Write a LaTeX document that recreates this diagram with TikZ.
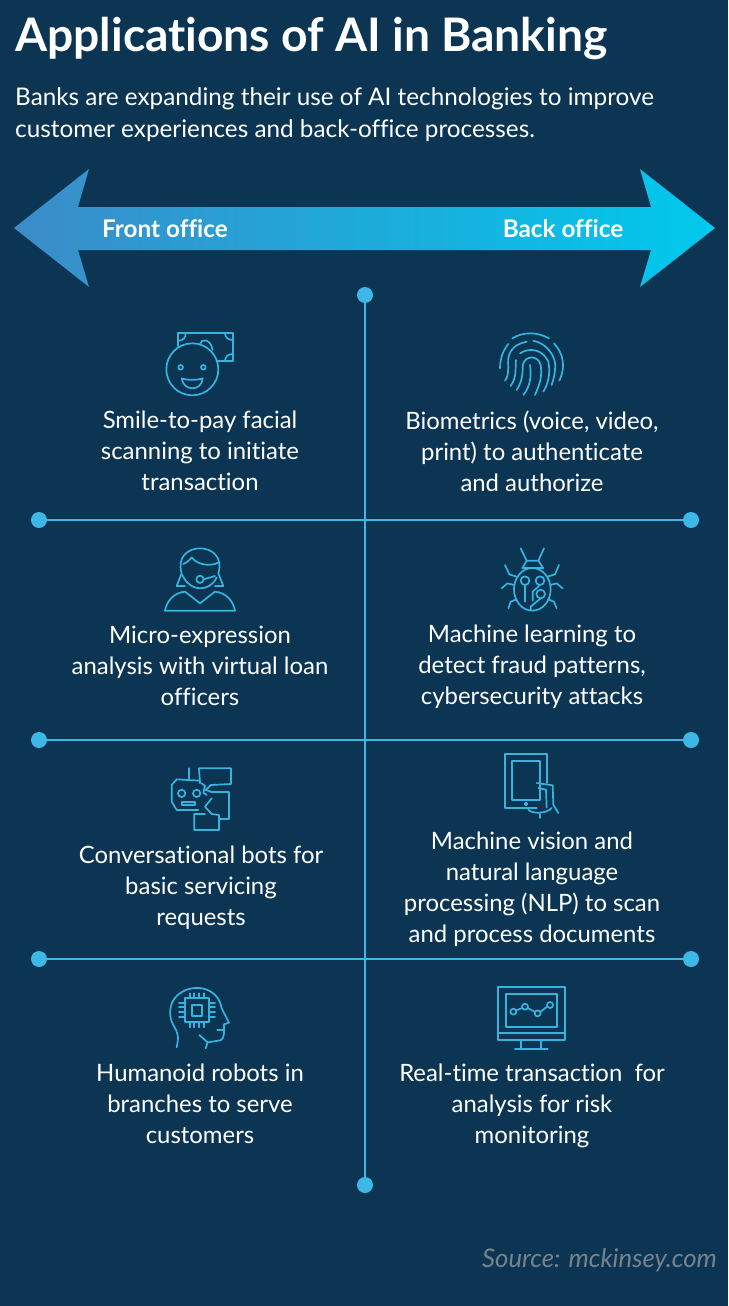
\documentclass[tikz,border=0pt]{standalone}
\usepackage{fontspec}
\setmainfont[Ligatures=NoCommon]{Lato}
\definecolor{pagebg}{HTML}{0B3553}
\definecolor{ruleblue}{HTML}{3DB7E6}
\definecolor{iconblue}{HTML}{36B4DF}
\definecolor{arrowleft}{HTML}{3B8CC8}
\definecolor{arrowright}{HTML}{00C9EC}
\definecolor{sourcegray}{HTML}{76838B}
\tikzset{
	rulesty/.style={draw=ruleblue,line width=1.9pt},
	dotsty/.style={circle,fill=ruleblue,minimum size=16pt,inner sep=0pt},
	itemsty/.style={text=white,align=center,font=\fontsize{23.9}{31}\selectfont},
	headsty/.style={text=white,font=\fontsize{24.3}{26}\selectfont\bfseries},
	icon/.style={draw=iconblue,line width=1.7pt,line join=round,line cap=round},
	zoomed/.style={shift={(#1)},x=0.3333pt,y=-0.3333pt},
}
\begin{document}
\begin{tikzpicture}[x=1pt,y=-1pt]
\useasboundingbox (0,0) rectangle (728,1306);
\fill[pagebg] (0,0) rectangle (728,1306);
\node (title) at (15,39) [anchor=west,inner sep=0pt,text=white,font=\fontsize{46.2}{46}\selectfont\bfseries]
	{Applications of AI in Banking};
\node (intro) at (15,115) [anchor=west,text=white,align=left,inner sep=0pt,font=\fontsize{24.3}{32}\selectfont]
	{Banks are expanding their use of AI technologies to improve\\customer experiences and back-office processes.};
\shade[left color=arrowleft,right color=arrowright]
	(14,228) -- (89,169) -- (78,207) -- (651,207) -- (640,169) -- (715,228)
	-- (640,287) -- (651,250) -- (78,250) -- (89,287) -- cycle;
\node[headsty] (front) at (165,229) {Front office};
\node[headsty] (back) at (563,229) {Back office};
\node[dotsty] (top) at (365,295) {};
\node[dotsty] (bottom) at (365,1185) {};
\node[dotsty] (lefta) at (39,520) {};
\node[dotsty] (righta) at (691,520) {};
\node[dotsty] (leftb) at (39,740) {};
\node[dotsty] (rightb) at (691,740) {};
\node[dotsty] (leftc) at (39,959) {};
\node[dotsty] (rightc) at (691,959) {};
\draw[rulesty] (top) -- (bottom);
\draw[rulesty] (lefta) -- (righta);
\draw[rulesty] (leftb) -- (rightb);
\draw[rulesty] (leftc) -- (rightc);
\node[itemsty] (smile) at (200,451) {Smile-to-pay facial\\scanning to initiate\\transaction};
\node[itemsty] (biometrics) at (532,451) {Biometrics (voice, video,\\print) to authenticate\\and authorize};
\node[itemsty] (micro) at (200,666) {Micro-expression\\analysis with virtual loan\\officers};
\node[itemsty] (fraud) at (532,667) {Machine learning to\\detect fraud patterns,\\cybersecurity attacks};
\node[itemsty] (bots) at (201,888) {Conversational bots for\\basic servicing\\requests};
\node[itemsty] (vision) at (532,889) {Machine vision and\\natural language\\processing (NLP) to scan\\and process documents};
\node[itemsty] (robots) at (200,1104) {Humanoid robots in\\branches to serve\\customers};
\node[itemsty] (realtime) at (532,1106) {Real-time transaction\ \ for\\analysis for risk\\monitoring};
\node (source) at (717,1260) [anchor=east,inner sep=0pt,text=sourcegray,font=\fontsize{25.7}{26}\selectfont\itshape] {Source: mckinsey.com};
\begin{scope}[zoomed={140,320}]
\draw[icon] (115,78) -- (115,40) -- (278,40) -- (278,123) -- (232,123);
\draw[icon] (115,62) .. controls (130,62) and (137,52) .. (137,40);
\draw[icon] (255,40) .. controls (255,52) and (265,60) .. (278,60);
\draw[icon] (255,123) .. controls (255,110) and (265,102) .. (278,102);
\draw[icon] (180,72) .. controls (183,55) and (212,55) .. (218,90);
\draw[icon] (157,148) circle[radius=78];
\draw[icon] (122,142) circle[radius=7];
\draw[icon] (190,142) circle[radius=7];
\draw[icon] (125,175) .. controls (140,181) and (172,181) .. (188,175)
	.. controls (185,215) and (130,215) .. (125,175) -- cycle;
\end{scope}
\begin{scope}[zoomed={480,320}]
\draw[icon] (97,55) .. controls (130,35) and (170,35) .. (207,55);
\draw[icon] (60,145) .. controls (60,115) and (70,90) .. (85,72);
\draw[icon] (222,70) .. controls (250,100) and (258,140) .. (238,182);
\draw[icon] (75,182) .. controls (90,165) and (82,130) .. (85,115) .. controls (90,85) and (110,72) .. (140,65);
\draw[icon] (160,62) .. controls (200,70) and (232,110) .. (225,150) .. controls (224,165) and (220,180) .. (215,195);
\draw[icon] (92,198) .. controls (112,170) and (105,140) .. (108,120);
\draw[icon] (120,100) .. controls (150,80) and (190,90) .. (205,125) .. controls (212,160) and (205,190) .. (190,215);
\draw[icon] (110,210) .. controls (130,180) and (128,150) .. (128,135) .. controls (135,105) and (175,105) .. (182,135) .. controls (187,170) and (180,190) .. (165,225);
\draw[icon] (130,225) .. controls (150,200) and (155,170) .. (150,135);
\end{scope}
\begin{scope}[zoomed={150,540}]
\draw[icon] (80,138) -- (95,100) .. controls (80,50) and (115,25) .. (150,25)
	.. controls (185,25) and (220,50) .. (205,100) -- (220,138) -- (195,138);
\draw[icon] (80,138) -- (105,138);
\draw[icon] (100,72) .. controls (110,68) and (120,60) .. (125,52)
	.. controls (140,72) and (175,82) .. (205,68);
\draw[icon] (97,105) .. controls (110,135) and (135,145) .. (150,145)
	.. controls (170,145) and (190,135) .. (200,112);
\draw[icon] (150,118) circle[radius=11];
\draw[icon] (161,118) -- (195,108);
\draw[icon] (45,212) .. controls (50,185) and (70,158) .. (105,155) -- (150,190) -- (195,155)
	.. controls (230,158) and (250,185) .. (255,212) -- cycle;
\end{scope}
\begin{scope}[zoomed={490,540}]
\draw[icon] (92,25) -- (110,62) -- (145,62) -- (162,25);
\draw[icon] (97,85) -- (110,62);
\draw[icon] (145,62) -- (160,85);
\draw[icon] (97,85) -- (160,85);
\draw[icon] (127,148) ellipse[x radius=55,y radius=64];
\draw[icon] (105,122) circle[radius=13];
\draw[icon] (150,122) circle[radius=13];
\draw[icon] (152,162) circle[radius=13];
\draw[icon] (105,135) -- (105,185);
\draw[icon] (150,135) -- (128,155) -- (128,182);
\draw[icon] (152,175) -- (122,200) -- (122,210);
\draw[icon] (45,75) -- (58,103) -- (80,110);
\draw[icon] (35,145) -- (52,130) -- (72,135);
\draw[icon] (55,205) -- (62,185) -- (80,178);
\draw[icon] (207,75) -- (195,103) -- (172,110);
\draw[icon] (218,145) -- (200,130) -- (181,135);
\draw[icon] (200,205) -- (192,185) -- (174,178);
\end{scope}
\begin{scope}[zoomed={155,760}]
\draw[icon] (102,25) -- (102,58);
\draw[icon] (135,62) -- (65,58) -- (50,75) -- (50,125) -- (65,150) -- (130,150);
\draw[icon] (80,100) circle[radius=11];
\draw[icon] (125,100) circle[radius=11];
\draw[icon] (82,125) rectangle (120,135);
\draw[icon] (135,70) -- (132,25) -- (228,25) -- (228,72) -- (168,75) -- (152,90) -- (168,95);
\draw[icon] (168,95) -- (222,95) -- (222,178) -- (195,178);
\draw[icon] (150,162) -- (118,162) -- (118,210) -- (192,210) -- (192,165) -- (170,162) -- (150,140) -- (170,115);
\draw[icon] (140,70) -- (150,78) -- (145,98) -- (155,105);
\end{scope}
\begin{scope}[zoomed={490,748}]
\draw[icon] (140,180) -- (45,180) -- (45,18) -- (170,18) -- (170,105);
\draw[icon] (65,40) rectangle (150,155);
\draw[icon] (108,168) circle[radius=4];
\draw[icon] (140,105) -- (188,112) -- (190,170) -- (205,195);
\draw[icon] (145,120) -- (168,125) -- (170,178);
\draw[icon] (115,185) .. controls (125,198) and (170,198) .. (185,180);
\draw[icon] (150,198) -- (150,210);
\end{scope}
\begin{scope}[zoomed={155,980}]
\draw[icon] (65,202) .. controls (72,170) and (70,160) .. (55,135)
	.. controls (40,110) and (42,70) .. (65,48)
	.. controls (110,5) and (190,20) .. (200,85)
	-- (222,128) -- (207,133) -- (207,150) -- (187,150);
\draw[icon] (207,150) .. controls (208,175) and (200,182) .. (190,182) -- (158,187) -- (133,165);
\draw[icon] (158,187) -- (152,205);
\draw[icon] (90,55) rectangle (162,125);
\draw[icon] (110,75) rectangle (142,108);
\foreach \pinx in {105,118,132,147} {
	\draw[icon] (\pinx,40) -- (\pinx,55);
	\draw[icon] (\pinx,125) -- (\pinx,142);
}
\foreach \piny in {70,82,95,110} {
	\draw[icon] (72,\piny) -- (90,\piny);
	\draw[icon] (162,\piny) -- (180,\piny);
}
\end{scope}
\begin{scope}[zoomed={485,980}]
\draw[icon] (40,22) rectangle (240,180);
\draw[icon] (40,158) -- (240,158);
\draw[icon] (62,42) rectangle (215,140);
\draw[icon] (108,180) -- (108,208);
\draw[icon] (168,180) -- (168,208);
\draw[icon] (90,208) -- (188,208);
\draw[icon] (85,95) circle[radius=9];
\draw[icon] (120,80) circle[radius=9];
\draw[icon] (158,100) circle[radius=9];
\draw[icon] (195,75) circle[radius=9];
\draw[icon] (93,91) -- (112,84);
\draw[icon] (128,84) -- (150,96);
\draw[icon] (166,96) -- (187,79);
\end{scope}
\end{tikzpicture}
\end{document}
